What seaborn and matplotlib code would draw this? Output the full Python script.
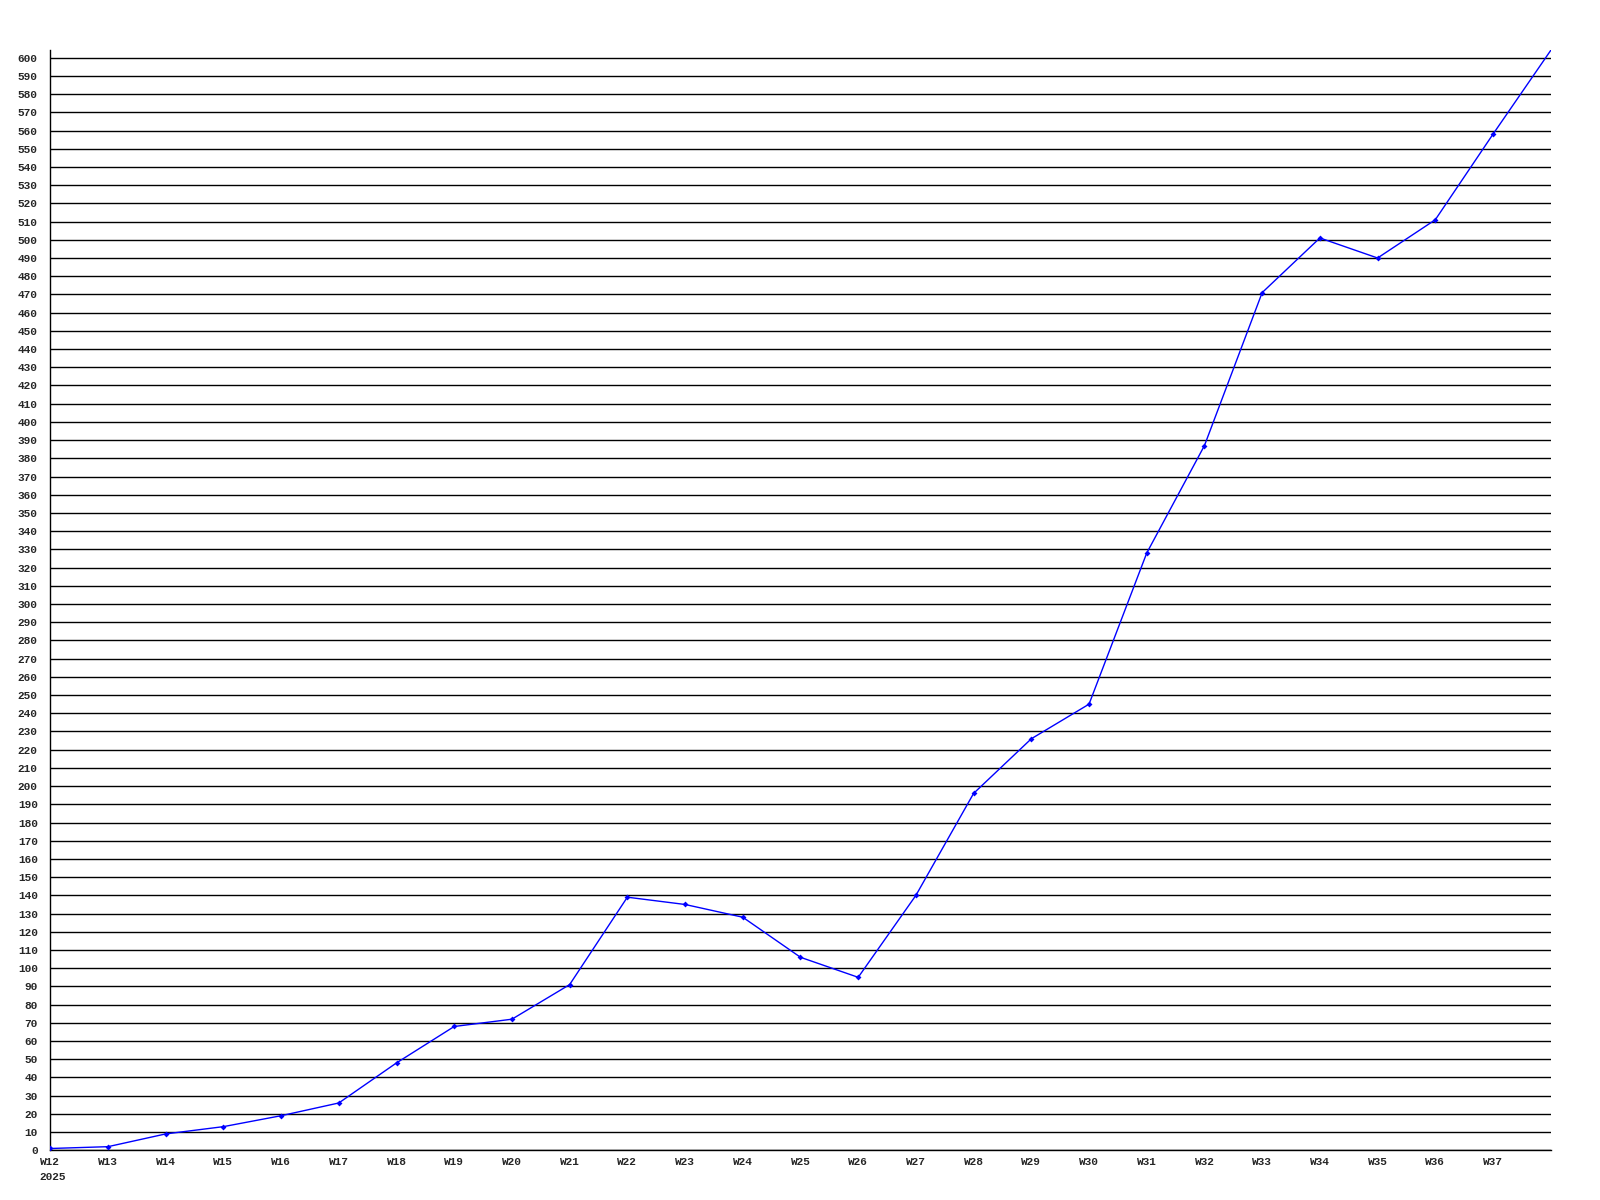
import pandas as pd
import matplotlib
matplotlib.use("Agg")
import matplotlib.pyplot as plt
import seaborn as sns

# weekly values, W12 2025 .. W38 (last point runs off the top of the chart)
weeks = ["W12", "W13", "W14", "W15", "W16", "W17", "W18", "W19", "W20", "W21",
         "W22", "W23", "W24", "W25", "W26", "W27", "W28", "W29", "W30", "W31",
         "W32", "W33", "W34", "W35", "W36", "W37", "W38"]
values = [1, 2, 9, 13, 19, 26, 48, 68, 72, 91,
          139, 135, 128, 106, 95, 140, 196, 226, 245, 328,
          387, 471, 501, 490, 511, 558, 604]
tick_weeks = weeks[:-1]
year_label = "2025"

df = pd.DataFrame({"pos": range(len(weeks)), "week": weeks, "value": values})

sns.set_style("white")
plt.rcParams["font.family"] = ["Liberation Mono", "DejaVu Sans Mono"]
plt.rcParams["font.weight"] = "bold"

fig = plt.figure(figsize=(16, 12), dpi=100)
ax = fig.add_axes([0.0314, 0.0414, 0.9378, 0.9166])

sns.lineplot(data=df, x="pos", y="value", ax=ax, color="#0000ff", linewidth=1,
             marker="D", markersize=3, markeredgewidth=0, zorder=3,
             markevery=list(range(len(weeks) - 1)))

ax.set_xlim(0, len(weeks) - 1)
ax.set_ylim(0, 604)
ax.set_yticks(range(0, 601, 10))
ax.set_yticklabels([str(v) for v in range(0, 601, 10)], fontsize=8, fontweight="bold")
ax.set_xticks(range(len(tick_weeks)))
ax.set_xticklabels(tick_weeks, fontsize=8, fontweight="bold")
ax.tick_params(axis="both", length=0)
ax.tick_params(axis="x", pad=5)
ax.tick_params(axis="y", pad=9)

ax.yaxis.grid(True, color="black", linewidth=1)
ax.set_axisbelow(True)
for side in ["top", "right"]:
    ax.spines[side].set_visible(False)
for side in ["left", "bottom"]:
    ax.spines[side].set_color("black")
    ax.spines[side].set_linewidth(1)

ax.annotate(year_label, xy=(0, 0), xycoords=("data", "axes fraction"),
            xytext=(-7.5, -15.5), textcoords="offset points",
            ha="left", va="top", fontsize=8, fontweight="bold")

ax.set_xlabel("")
ax.set_ylabel("")

fig.savefig("out.png", dpi=100)
